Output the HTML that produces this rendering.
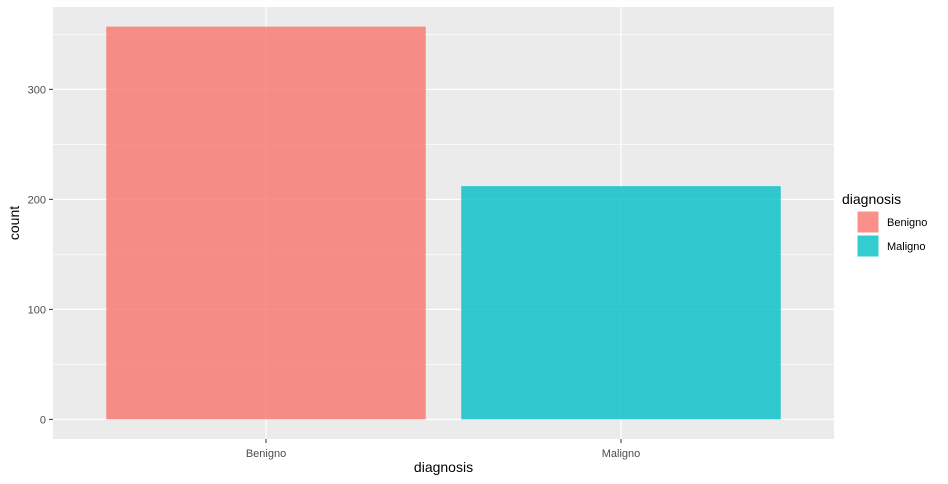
<!DOCTYPE html>
<html><head><meta charset="utf-8"><style>
body{margin:0;background:#fff;}
svg{display:block;font-family:"Liberation Sans",Arial,sans-serif;}
</style></head><body>
<svg id="chart" width="948" height="484" xmlns="http://www.w3.org/2000/svg"></svg>
<script>
const categories = ["Benigno", "Maligno"];
const counts = [357, 212];
const colors = ["#F8766D", "#00BFC4"];
const yTicks = [0, 100, 200, 300];
const yMinor = [50, 150, 250, 350];

const NS = "http://www.w3.org/2000/svg";
const svg = document.getElementById("chart");
const P = {l: 53, r: 834, t: 7, b: 439};
const ymax = Math.max(...counts);
const y0 = -0.05 * ymax, y1 = ymax * 1.05;
const y = v => P.b - (v - y0) / (y1 - y0) * (P.b - P.t);
const n = categories.length;
const x = i => P.l + (i + 0.6) / (n + 0.2) * (P.r - P.l);
const band = (P.r - P.l) / (n + 0.2);
function mk(tag, attrs, parent) {
  const e = document.createElementNS(NS, tag);
  for (const k in attrs) e.setAttribute(k, attrs[k]);
  (parent || svg).appendChild(e);
  return e;
}
const bg = mk("rect", {x: P.l, y: P.t, width: P.r - P.l, height: P.b - P.t, fill: "#EBEBEB"});


yMinor.forEach(v => {
  const l = mk("line", {x1: P.l, x2: P.r, y1: y(v), y2: y(v), stroke: "#fff", "stroke-width": 0.6});
  
  
});
yTicks.forEach(v => {
  const l = mk("line", {x1: P.l, x2: P.r, y1: y(v), y2: y(v), stroke: "#fff", "stroke-width": 1.2});
  
  
  const t = mk("line", {x1: P.l - 4, x2: P.l, y1: y(v), y2: y(v), stroke: "#333", "stroke-width": 1});
  
  
  const tx = mk("text", {x: P.l - 7, y: y(v) + 4, "text-anchor": "end", "font-size": 11, fill: "#4D4D4D"});
  tx.textContent = v;
  
  
});
categories.forEach((c, i) => {
  const l = mk("line", {x1: x(i), x2: x(i), y1: P.t, y2: P.b, stroke: "#fff", "stroke-width": 1.2});
  
  
});
categories.forEach((c, i) => {
  const w = band * 0.9;
  const r = mk("rect", {x: x(i) - w / 2, y: y(counts[i]), width: w, height: y(0) - y(counts[i]), fill: colors[i], "fill-opacity": 0.8});
  
  
  const t = mk("line", {x1: x(i), x2: x(i), y1: P.b, y2: P.b + 4, stroke: "#333", "stroke-width": 1});
  
  
  const tx = mk("text", {x: x(i), y: P.b + 18, "text-anchor": "middle", "font-size": 11, fill: "#4D4D4D"});
  tx.textContent = c;
  
  
  const k = mk("rect", {x: 857, y: 211 + i * 24, width: 22, height: 22, fill: colors[i], "fill-opacity": 0.8, stroke: "#fff", "stroke-width": 1});
  
  
  const lt = mk("text", {x: 887, y: 226 + i * 24, "font-size": 11, fill: "#000"});
  lt.textContent = c;
  
  
});
const xt = mk("text", {x: (P.l + P.r) / 2, y: 472, "text-anchor": "middle", "font-size": 14, fill: "#000"});
xt.textContent = "diagnosis";


const yt = mk("text", {x: 0, y: 0, "text-anchor": "middle", "font-size": 14, fill: "#000", transform: "translate(19," + ((P.t + P.b) / 2) + ") rotate(-90)"});
yt.textContent = "count";


const lg = mk("text", {x: 842, y: 204, "font-size": 14, fill: "#000"});
lg.textContent = "diagnosis";


</script>
</body></html>
